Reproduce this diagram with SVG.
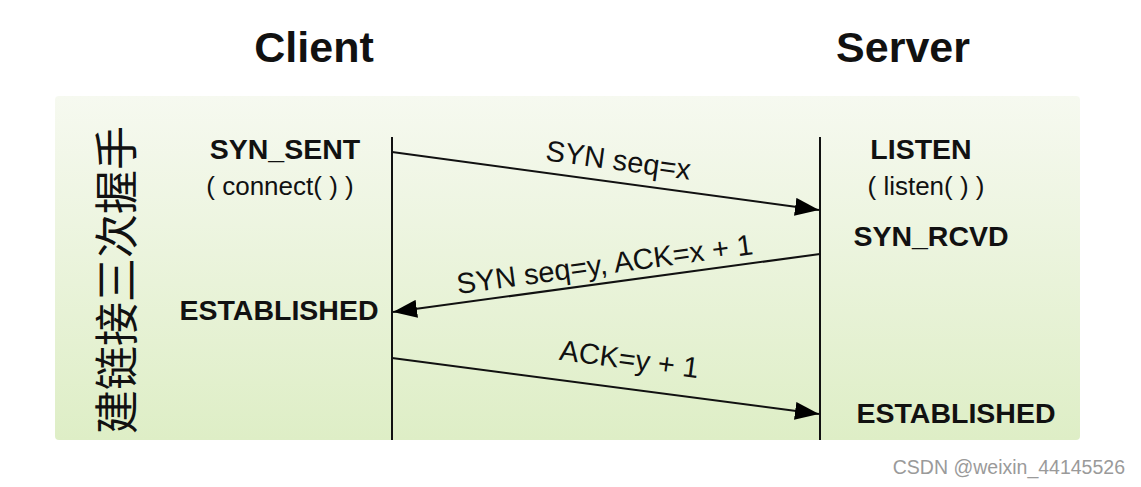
<svg xmlns="http://www.w3.org/2000/svg" width="1141" height="487" viewBox="0 0 1141 487">
<defs>
<linearGradient id="bg" x1="0" y1="0" x2="0" y2="1">
<stop offset="0" stop-color="#f6f9f0"/>
<stop offset="1" stop-color="#deeec6"/>
</linearGradient>
<marker id="ah" viewBox="0 0 24 18" refX="24" refY="9" markerWidth="24" markerHeight="18" markerUnits="userSpaceOnUse" orient="auto">
<path d="M0,0 L24,9 L0,18 Z" fill="#000"/>
</marker>
<style>
.t{font-family:"Liberation Sans",Arial,sans-serif;fill:#111}
.b{font-weight:bold}
.h{font-size:43px}
.s{font-size:28.5px}
.r{font-size:26px}
.m{font-size:29px}
.line{stroke:#111;stroke-width:2;fill:none}
.cjk{font-family:"Noto Sans CJK SC",sans-serif;font-size:44px;fill:#111}
</style>
</defs>
<rect width="1141" height="487" fill="#fff"/>
<rect id="panel" x="55" y="96" width="1025" height="344" rx="4" fill="url(#bg)"/>
<g id="client-title"><text class="t b h" x="314" y="62" text-anchor="middle">Client</text></g>
<g id="server-title"><text class="t b h" x="903" y="62" text-anchor="middle">Server</text></g>
<g id="side-label"><text class="cjk" transform="translate(133,280) rotate(-90)" text-anchor="middle">建链接三次握手</text></g>
<g id="client-states">
<text class="t b s" x="285" y="159" text-anchor="middle">SYN_SENT</text>
<text class="t r" x="280" y="195" text-anchor="middle">( connect( ) )</text>
<text class="t b s" x="279" y="320" text-anchor="middle">ESTABLISHED</text>
</g>
<g id="server-states">
<text class="t b s" x="921" y="159" text-anchor="middle">LISTEN</text>
<text class="t r" x="926" y="195" text-anchor="middle">( listen( ) )</text>
<text class="t b s" x="931" y="246" text-anchor="middle">SYN_RCVD</text>
<text class="t b s" x="956" y="423" text-anchor="middle">ESTABLISHED</text>
</g>
<g id="connectors">
<line class="line" x1="392" y1="137" x2="392" y2="440"/>
<line class="line" x1="820" y1="137" x2="820" y2="440"/>
<line class="line" x1="392" y1="152" x2="819" y2="210" marker-end="url(#ah)"/>
<line class="line" x1="820" y1="254" x2="393" y2="312" marker-end="url(#ah)"/>
<line class="line" x1="392" y1="358" x2="819" y2="414" marker-end="url(#ah)"/>
<text class="t m" transform="translate(617,170) rotate(7.7)" text-anchor="middle">SYN seq=x</text>
<text class="t m" transform="translate(606,274) rotate(-7.7)" text-anchor="middle">SYN seq=y, ACK=x + 1</text>
<text class="t m" transform="translate(628,369) rotate(7.5)" text-anchor="middle">ACK=y + 1</text>
</g>
<text x="1125" y="474" text-anchor="end" font-family="Liberation Sans, Arial, sans-serif" font-size="19.5" fill="#9a9a9a">CSDN @weixin_44145526</text>
</svg>
